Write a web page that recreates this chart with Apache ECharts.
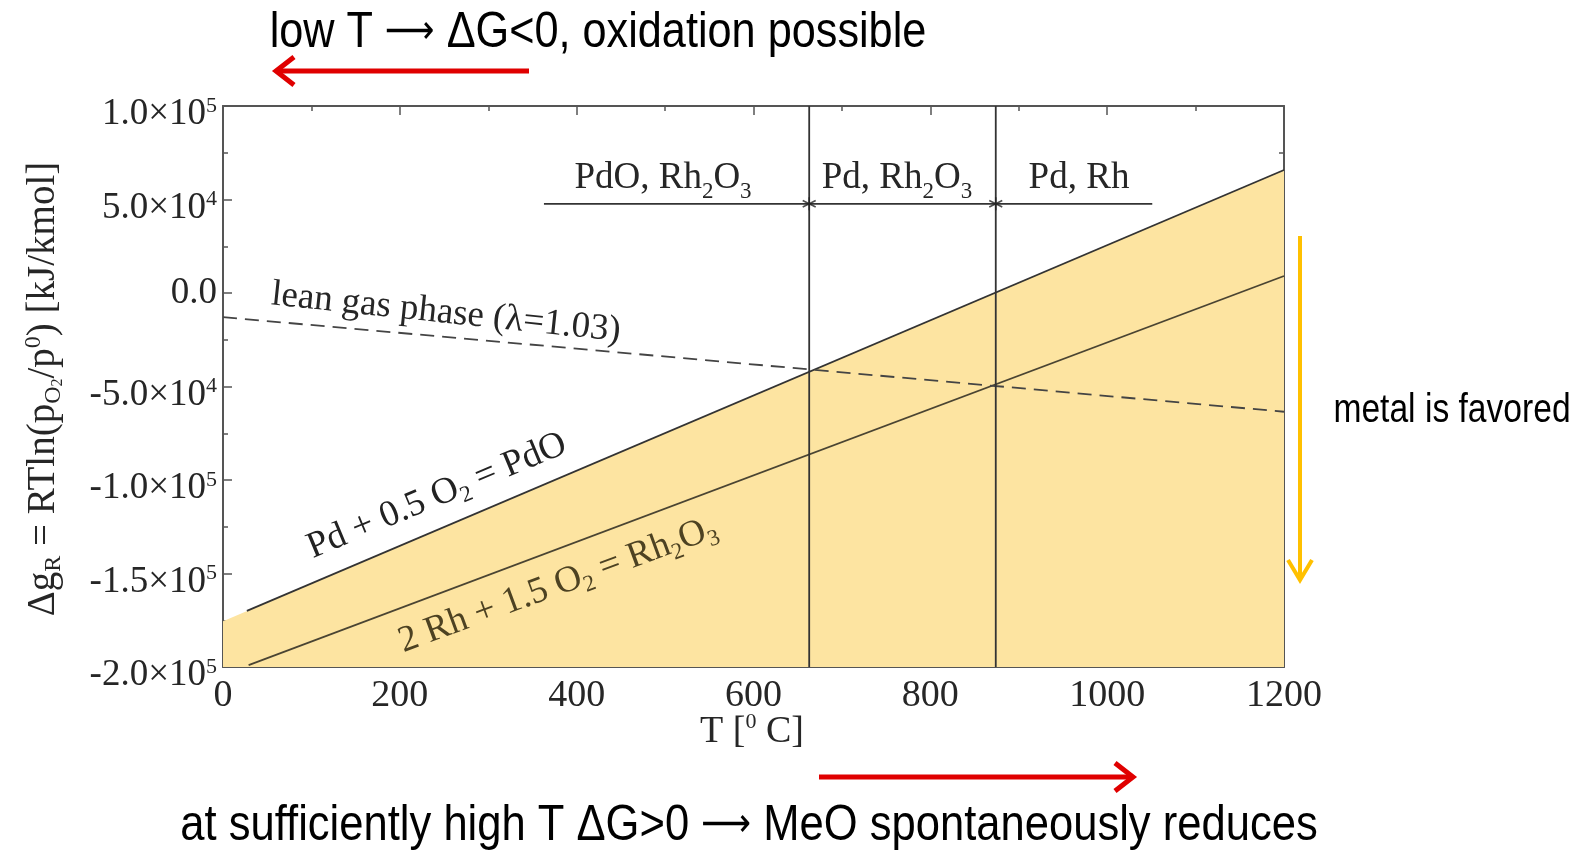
<!DOCTYPE html>
<html>
<head>
<meta charset="utf-8">
<script src="https://cdn.jsdelivr.net/npm/echarts@6/dist/echarts.min.js"></script>
<style>
  html, body { margin: 0; padding: 0; background: #fff; }
  #chart { width: 1581px; height: 853px; }
</style>
</head>
<body>
<div id="chart"></div>
<script>
// end points of the straight lines: T [°C] / Δg [kJ/kmol]
const pdT = [27, 1200]
const pdG = [-170000, 65800]
const pdFillT = [0, 1200]
const pdFillG = [-175500, 65800]
const rhT = [29, 1200]
const rhG = [-199000, 9100]
const leanT = [0, 1200]
const leanG = [-12900, -63500]
const boundaryT = [663, 874]
const barT = [363, 1051]
const barG = 47700

const yTickValues = [-200000, -150000, -100000, -50000, 0, 50000, 100000]
const yTickLabels = ['-2.0×10|5', '-1.5×10|5', '-1.0×10|5', '-5.0×10|4', '0.0', '5.0×10|4', '1.0×10|5']

const serif = 'Liberation Serif'
const sans = 'Liberation Sans'
const ink = '#333'
const txt = '#262626'

function pairs(ts, gs) {
  return ts.map((t, i) => [t, gs[i]])
}

function yLabel(v) {
  const i = yTickValues.indexOf(v)
  if (i < 0) return ''
  const parts = yTickLabels[i].split('|')
  if (parts.length === 1) return '{p|' + parts[0] + '}'
  return '{b|' + parts[0] + '}{s|' + parts[1] + '}'
}

// rich styles for chemistry labels; subH sets how far the subscript drops
function chemRich(color, size, subH) {
  return {
    b: { fontFamily: serif, fontSize: size, fill: color, lineHeight: 40, verticalAlign: 'middle' },
    sub: { fontFamily: serif, fontSize: 23, fill: color, lineHeight: subH, verticalAlign: 'bottom' },
  }
}

function centered(extra) {
  return Object.assign({ align: 'center', verticalAlign: 'middle', textAlign: 'center', textVerticalAlign: 'middle' }, extra)
}

const tickStyle = { show: true, inside: true, length: 9, lineStyle: { color: '#555', width: 1.5 } }
const minorStyle = { show: true, splitNumber: 2, length: 5, lineStyle: { color: '#555', width: 1.5 } }
const lineAxis = { show: true, onZero: false, lineStyle: { color: '#555', width: 2 } }

const myChart = echarts.init(document.getElementById('chart'))

const boundarySeries = boundaryT.map((t) => ({
  type: 'line',
  data: [[t, -200000], [t, 100000]],
  symbol: 'none',
  lineStyle: { color: ink, width: 1.8 },
  z: 4,
}))

const arrowFont = { fontFamily: 'DejaVu Sans', fontSize: 40, fill: '#000', verticalAlign: 'middle', lineHeight: 56 }

myChart.setOption({
  animation: false,
  grid: { left: 223, right: 297, top: 106, bottom: 186 },
  xAxis: [
    {
      type: 'value', min: 0, max: 1200, interval: 200,
      axisLine: lineAxis, axisTick: tickStyle, minorTick: minorStyle,
      splitLine: { show: false },
      axisLabel: { margin: 10, fontFamily: serif, fontSize: 38, color: txt, formatter: (v) => String(v) },
    },
    {
      type: 'value', position: 'top', min: 0, max: 1200, interval: 200,
      axisLine: lineAxis, axisTick: tickStyle, minorTick: minorStyle,
      splitLine: { show: false }, axisLabel: { show: false },
    },
  ],
  yAxis: [
    {
      type: 'value', min: -200000, max: 100000, interval: 50000,
      axisLine: lineAxis, axisTick: tickStyle, minorTick: minorStyle,
      splitLine: { show: false },
      axisLabel: {
        margin: 6,
        formatter: yLabel,
        rich: {
          p: { fontFamily: serif, fontSize: 37, color: txt, lineHeight: 40 },
          b: { fontFamily: serif, fontSize: 37, color: txt, lineHeight: 54, verticalAlign: 'bottom' },
          s: { fontFamily: serif, fontSize: 22, color: txt, lineHeight: 20, verticalAlign: 'middle' },
        },
      },
    },
    {
      type: 'value', position: 'right', min: -200000, max: 100000, interval: 50000,
      axisLine: lineAxis, axisTick: tickStyle, minorTick: minorStyle,
      splitLine: { show: false }, axisLabel: { show: false },
    },
  ],
  series: [
    {
      type: 'line',
      data: pairs(pdFillT, pdFillG),
      symbol: 'none',
      lineStyle: { width: 0 },
      areaStyle: { color: '#fde4a1', opacity: 1, origin: 'start' },
      z: 1,
    },
    {
      type: 'line',
      data: pairs(pdT, pdG),
      symbol: 'none',
      lineStyle: { color: ink, width: 1.8 },
      z: 3,
    },
    {
      type: 'line',
      data: pairs(rhT, rhG),
      symbol: 'none',
      lineStyle: { color: '#4a4432', width: 1.8 },
      z: 3,
    },
    {
      type: 'line',
      data: pairs(leanT, leanG),
      symbol: 'none',
      lineStyle: { color: '#444', width: 1.8, type: [14, 8] },
      z: 3,
    },
    ...boundarySeries,
    {
      type: 'line',
      data: barT.map((t) => [t, barG]),
      symbol: 'none',
      lineStyle: { color: ink, width: 1.8 },
      z: 4,
    },
    {
      type: 'scatter',
      data: boundaryT.map((t) => [t, barG]),
      symbol: 'path://M0,-5L0,5M-4.33,-2.5L4.33,2.5M-4.33,2.5L4.33,-2.5',
      symbolSize: 13,
      itemStyle: { color: 'none', borderColor: '#222', borderWidth: 1.6 },
      z: 5,
    },
  ],
  graphic: [
    // axis names
    {
      type: 'text', x: 752, y: 731, z: 10,
      style: centered({
        text: '{b|T [}{s|0}{b| C]}',
        rich: {
          b: { fontFamily: serif, fontSize: 38, fill: txt, lineHeight: 40, verticalAlign: 'bottom' },
          s: { fontFamily: serif, fontSize: 22, fill: txt, lineHeight: 20, verticalAlign: 'top' },
        },
      }),
    },
    {
      type: 'text', x: 44, y: 389, rotation: Math.PI / 2, z: 10,
      style: centered({
        text: '{b|Δg}{sub|R}{b| = RTln(p}{sub|O}{sub2|2}{b|/p}{sup|0}{b|) [kJ/kmol]}',
        rich: {
          b: { fontFamily: serif, fontSize: 39, fill: txt, lineHeight: 44, verticalAlign: 'middle' },
          sub: { fontFamily: serif, fontSize: 24, fill: txt, lineHeight: 20, verticalAlign: 'bottom' },
          sub2: { fontFamily: serif, fontSize: 16, fill: txt, lineHeight: 12, verticalAlign: 'bottom' },
          sup: { fontFamily: serif, fontSize: 24, fill: txt, lineHeight: 20, verticalAlign: 'top' },
        },
      }),
    },
    // phase labels
    {
      type: 'text', x: 663, y: 178, z: 10,
      style: centered({ text: '{b|PdO, Rh}{sub|2}{b|O}{sub|3}', rich: chemRich(txt, 37, 50) }),
    },
    {
      type: 'text', x: 897, y: 178, z: 10,
      style: centered({ text: '{b|Pd, Rh}{sub|2}{b|O}{sub|3}', rich: chemRich(txt, 37, 50) }),
    },
    {
      type: 'text', x: 1079, y: 178, z: 10,
      style: centered({ text: 'Pd, Rh', font: '37px ' + serif, fill: txt }),
    },
    // line labels
    {
      type: 'text', x: 446, y: 313, rotation: -6 * Math.PI / 180, z: 10,
      style: centered({ text: 'lean gas phase (λ=1.03)', font: '37px ' + serif, fill: txt }),
    },
    {
      type: 'text', x: 437, y: 496, rotation: 22.6 * Math.PI / 180, z: 10,
      style: centered({ text: '{b|Pd + 0.5 O}{sub|2}{b| = PdO}', rich: chemRich('#222', 37, 44) }),
    },
    {
      type: 'text', x: 558, y: 585, rotation: 20.2 * Math.PI / 180, z: 10,
      style: centered({ text: '{b|2 Rh + 1.5 O}{sub|2}{b| = Rh}{sub|2}{b|O}{sub|3}', rich: chemRich('#4d4222', 37, 44) }),
    },
    // annotations around the plot
    {
      type: 'text', x: 598, y: 33, scaleX: 0.865, z: 10,
      style: centered({
        text: '{t|low T }{a|\u27f6}{t| ΔG<0, oxidation possible}',
        rich: {
          t: { fontFamily: sans, fontSize: 50, fill: '#000', verticalAlign: 'middle', lineHeight: 56 },
          a: arrowFont,
        },
      }),
    },
    {
      type: 'text', x: 749, y: 826, scaleX: 0.871, z: 10,
      style: centered({
        text: '{t|at sufficiently high T ΔG>0 }{a|\u27f6}{t| MeO spontaneously reduces}',
        rich: {
          t: { fontFamily: sans, fontSize: 50, fill: '#000', verticalAlign: 'middle', lineHeight: 56 },
          a: arrowFont,
        },
      }),
    },
    {
      type: 'text', x: 1452, y: 411, scaleX: 0.84, z: 10,
      style: centered({ text: 'metal is favored', font: '40px ' + sans, fill: '#000' }),
    },
    // arrows
    { type: 'polyline', z: 10, shape: { points: [[529, 71], [276, 71]] }, style: { stroke: '#e00000', lineWidth: 5 } },
    { type: 'polyline', z: 10, shape: { points: [[294, 57], [276, 71], [294, 85]] }, style: { stroke: '#e00000', lineWidth: 5, fill: 'none' } },
    { type: 'polyline', z: 10, shape: { points: [[819, 777], [1133, 777]] }, style: { stroke: '#e00000', lineWidth: 5 } },
    { type: 'polyline', z: 10, shape: { points: [[1115, 763], [1133, 777], [1115, 791]] }, style: { stroke: '#e00000', lineWidth: 5, fill: 'none' } },
    { type: 'polyline', z: 10, shape: { points: [[1300, 236], [1300, 580]] }, style: { stroke: '#ffc000', lineWidth: 4 } },
    { type: 'polyline', z: 10, shape: { points: [[1288, 560], [1300, 580], [1312, 560]] }, style: { stroke: '#ffc000', lineWidth: 4, fill: 'none' } },
  ],
})
</script>
</body>
</html>
